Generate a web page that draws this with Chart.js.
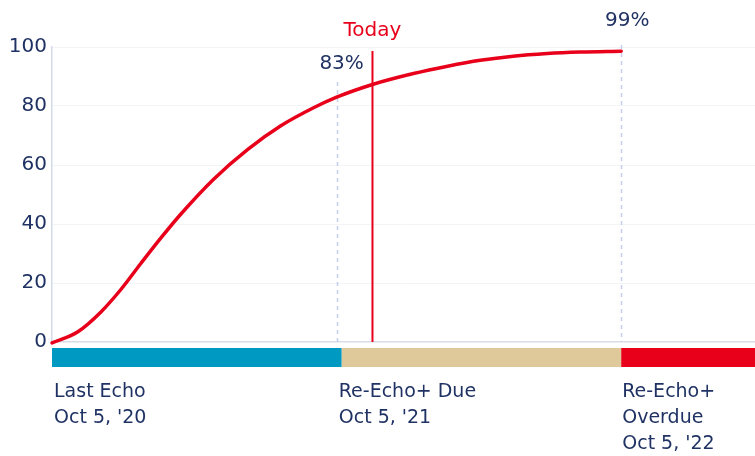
<!DOCTYPE html>
<html>
<head>
<meta charset="utf-8">
<script src="https://cdn.jsdelivr.net/npm/chart.js@4"></script>
<style>
  html, body { margin: 0; padding: 0; background: #ffffff; }
  #wrap { width: 755px; height: 456px; position: relative; }
</style>
</head>
<body>
<div id="wrap"><canvas id="c" width="755" height="456"></canvas></div>
<script>
// ---- data (x in years since last echo, y in %) ----
const years = [0, 0.091, 0.172, 0.242, 0.312, 0.382, 0.453, 0.568, 0.688, 0.804, 0.919, 1.0, 1.126, 1.27, 1.39, 1.505, 1.62, 1.74, 1.856, 2.0];
const risk  = [-0.3, 3.5, 10.2, 17.8, 26.6, 35.2, 43.4, 55.2, 65.3, 73.3, 79.4, 83, 87.3, 91.0, 93.5, 95.5, 96.9, 97.8, 98.3, 98.6];
const yTicks = [0, 20, 40, 60, 80, 100];

const markerYears = [1, 2];
const markerLabels = ['83%', '99%'];
const todayYear = 1.126;
const todayLabel = 'Today';

const phaseStarts = [0, 1.018, 2.0];
const phaseEnds = [1.018, 2.0, 2.47];
const phaseColors = ['#0099c2', '#dfc99b', '#e8001b'];
const phaseLabels = [['Last Echo', "Oct 5, '20"], ['Re-Echo+ Due', "Oct 5, '21"], ['Re-Echo+', 'Overdue', "Oct 5, '22"]];

const NAVY = '#1f3263';
const RED = '#e8001b';
const FONT = '"DejaVu Sans", sans-serif';

const overlay = {
  id: 'overlay',
  beforeDatasetsDraw(chart) {
    const { ctx, scales: { x, y }, chartArea } = chart;
    ctx.save();
    // dashed marker lines
    ctx.strokeStyle = '#c3cfeb';
    ctx.lineWidth = 1.5;
    ctx.setLineDash([4, 4]);
    const tops = [82, 45];
    markerYears.forEach((m, i) => {
      const px = Math.round(x.getPixelForValue(m)) + 0.5;
      ctx.beginPath();
      ctx.moveTo(px, tops[i]);
      ctx.lineTo(px, chartArea.bottom);
      ctx.stroke();
    });
    ctx.setLineDash([]);
    // today line
    const tx = x.getPixelForValue(todayYear);
    ctx.strokeStyle = RED;
    ctx.lineWidth = 2;
    ctx.beginPath();
    ctx.moveTo(tx, 51);
    ctx.lineTo(tx, chartArea.bottom);
    ctx.stroke();
    ctx.restore();
  },
  afterDraw(chart) {
    const { ctx, scales: { x, y }, chartArea } = chart;
    ctx.save();
    // phase bar
    phaseStarts.forEach((s, i) => {
      const x0 = Math.max(x.getPixelForValue(s), 49.5);
      const x1 = x.getPixelForValue(phaseEnds[i]);
      ctx.fillStyle = phaseColors[i];
      ctx.fillRect(x0, 348, x1 - x0, 19);
    });
    // phase labels
    ctx.fillStyle = NAVY;
    ctx.font = '19px ' + FONT;
    ctx.textAlign = 'left';
    ctx.textBaseline = 'alphabetic';
    const offs = [2, -3, 1];
    phaseStarts.forEach((s, i) => {
      const px = x.getPixelForValue(Math.max(s, 0)) + offs[i];
      phaseLabels[i].forEach((t, j) => {
        ctx.fillText(t, px, 397 + j * 26);
      });
    });
    // marker percentage labels
    ctx.textAlign = 'center';
    ctx.font = '20px ' + FONT;
    const lblY = [69, 26];
    const lblDx = [5, 6];
    markerYears.forEach((m, i) => {
      ctx.fillText(markerLabels[i], x.getPixelForValue(m) + lblDx[i], lblY[i]);
    });
    // today label
    ctx.fillStyle = RED;
    ctx.font = '20px ' + FONT;
    ctx.fillText(todayLabel, x.getPixelForValue(todayYear), 36);
    ctx.restore();
  }
};

new Chart(document.getElementById('c'), {
  type: 'line',
  data: {
    datasets: [{
      data: years.map((v, i) => ({ x: v, y: risk[i] })),
      borderColor: RED,
      borderWidth: 3.5,
      borderCapStyle: 'round',
      pointRadius: 0,
      fill: false,
      cubicInterpolationMode: 'monotone',
      clip: false
    }]
  },
  options: {
    responsive: false,
    animation: false,
    devicePixelRatio: 1,
    layout: { padding: { top: 47, bottom: 114, left: 0, right: 0 } },
    plugins: { legend: { display: false }, tooltip: { enabled: false } },
    scales: {
      x: {
        type: 'linear',
        min: 0,
        max: 2.47,
        display: false
      },
      y: {
        min: 0,
        max: 100,
        afterFit(scale) { scale.width = 52; },
        afterBuildTicks(scale) { scale.ticks = yTicks.map(v => ({ value: v })); },
        border: { display: true, color: '#d3daea', width: 1.5 },
        grid: {
          drawTicks: false,
          color: (c) => c.tick && c.tick.value === 0 ? '#d9dde8' : '#f3f4f8',
          lineWidth: (c) => c.tick && c.tick.value === 0 ? 1.5 : 1
        },
        ticks: {
          padding: 5,
          color: NAVY,
          font: { family: FONT, size: 20 }
        }
      }
    }
  },
  plugins: [overlay]
});
</script>
</body>
</html>
